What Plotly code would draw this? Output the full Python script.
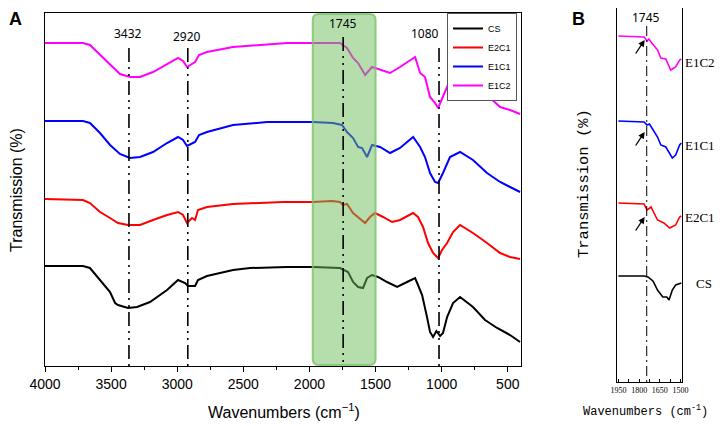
import plotly.graph_objects as go

# ---------------- Panel A data (wavenumber, relative transmission) ----------------
series_names = ["CS", "E2C1", "E1C1", "E1C2"]
series_colors = ["#000000", "#ff0000", "#0000ff", "#ff00ff"]
offsets_A = [0, 67, 145, 223]

cs_wn = [4000, 3713, 3660, 3584, 3508, 3470, 3448, 3372, 3304, 3206, 3077, 2994, 2941, 2918, 2865, 2843,
         2775, 2578, 2449, 2170, 1973, 1769, 1708, 1670, 1632, 1595, 1564, 1527, 1481, 1413, 1337, 1262,
         1201, 1179, 1148, 1111, 1088, 1065, 1040, 1012, 990, 959, 914, 861, 763, 672, 581, 483, 407]
cs_t = [0, 0, -2, -14, -26, -37, -39, -42, -41, -36, -24, -14, -17, -20, -20, -14,
        -10, -4, -2, -1, -1, -2, -6, -16, -21, -22, -12, -9, -11, -16, -21, -16,
        -12, -19, -29, -51, -66, -71, -65, -70, -67, -51, -37, -31, -41, -54, -62, -69, -76]

e2c1_wn = [4000, 3713, 3660, 3584, 3508, 3448, 3372, 3281, 3183, 3077, 2994, 2956, 2926, 2888, 2865, 2843,
           2775, 2578, 2200, 1973, 1829, 1769, 1746, 1716, 1670, 1632, 1579, 1542, 1504, 1443, 1375, 1315,
           1216, 1179, 1141, 1103, 1065, 1027, 997, 959, 914, 861, 763, 657, 558, 483, 407]
e2c1_t = [0, -1, -4, -13, -19, -24, -26, -26, -21, -16, -13, -16, -24, -19, -21, -11,
          -8, -5, -3, -3, -2, -3, -6, -5, -14, -18, -24, -18, -14, -18, -23, -21,
          -14, -18, -28, -44, -54, -59, -51, -44, -33, -26, -34, -44, -54, -58, -60]

e1c1_wn = [4000, 3713, 3660, 3584, 3508, 3433, 3357, 3281, 3183, 3077, 2994, 2956, 2926, 2865, 2835,
           2775, 2578, 2321, 1973, 1822, 1754, 1716, 1670, 1632, 1602, 1564, 1527, 1466, 1390, 1315,
           1216, 1163, 1126, 1088, 1050, 1027, 990, 937, 861, 763, 657, 558, 483, 407]
e1c1_t = [0, 0, -2, -12, -24, -33, -37, -36, -31, -22, -16, -19, -25, -21, -14,
          -11, -4, -1, -1, -2, -4, -11, -17, -26, -27, -36, -24, -26, -32, -27,
          -16, -26, -36, -52, -61, -62, -52, -36, -31, -39, -52, -61, -66, -71]

e1c2_wn = [4000, 3713, 3660, 3584, 3508, 3433, 3357, 3281, 3183, 3077, 2994, 2956, 2926, 2865, 2835,
           2775, 2578, 2170, 1973, 1769, 1716, 1670, 1632, 1579, 1527, 1466, 1390, 1315, 1201, 1163,
           1126, 1088, 1050, 1027, 990, 937, 861, 763, 657, 558, 483, 407]
e1c2_t = [0, 0, -2, -12, -22, -31, -34, -34, -29, -21, -15, -18, -24, -19, -12,
          -9, -4, 0, 0, 0, -5, -15, -20, -32, -24, -27, -30, -24, -14, -30,
          -34, -54, -60, -65, -54, -37, -31, -40, -52, -64, -67, -71]

# ---------------- Panel B data (zoom 1950-1500) ----------------
offsets_B = [0, 73, 155, 240]
b_cs_wn = [1950, 1764, 1736, 1700, 1667, 1629, 1600, 1584, 1560, 1536, 1495]
b_cs_t = [0, 0, -1, -5, -14, -21, -21, -24, -14, -9, -7]
b_e2c1_wn = [1950, 1764, 1743, 1714, 1667, 1621, 1579, 1536, 1507, 1495]
b_e2c1_t = [0, -1, -7, -4, -17, -20, -25, -22, -14, -13]
b_e1c1_wn = [1950, 1764, 1743, 1725, 1667, 1643, 1607, 1560, 1536, 1507, 1495]
b_e1c1_t = [0, -1, -4, -3, -16, -24, -26, -37, -34, -24, -22]
b_e1c2_wn = [1950, 1764, 1743, 1730, 1714, 1667, 1643, 1607, 1572, 1536, 1507, 1495]
b_e1c2_t = [0, -1, -5, -3, -6, -14, -22, -23, -34, -31, -24, -23]

peak_labels = ["3432", "2920", "1745", "1080"]
peak_lines = [3365, 2920, 1745, 1020]

A_wn = [cs_wn, e2c1_wn, e1c1_wn, e1c2_wn]
A_t = [cs_t, e2c1_t, e1c1_t, e1c2_t]
B_wn = [b_cs_wn, b_e2c1_wn, b_e1c1_wn, b_e1c2_wn]
B_t = [b_cs_t, b_e2c1_t, b_e1c1_t, b_e1c2_t]

W, H = 726, 426
OFF = 8  # page body margin offset
def px(x): return (x - OFF) / W
def py(y): return 1 - (y - OFF) / H

fig = go.Figure()
for name, col, off, wn, t in zip(series_names, series_colors, offsets_A, A_wn, A_t):
    fig.add_trace(go.Scatter(x=wn, y=[v + off for v in t], mode="lines", name=name,
                             line=dict(color=col, width=2), xaxis="x", yaxis="y"))
for name, col, off, wn, t in zip(series_names, series_colors, offsets_B, B_wn, B_t):
    fig.add_trace(go.Scatter(x=wn, y=[v + off for v in t], mode="lines", name=name, showlegend=False,
                             line=dict(color=col, width=1.6), xaxis="x2", yaxis="y2"))

shapes = []
x0, x1, y0, y1 = 1975, 1500, -99, 252
rx, ry = 45, 6
path = (f"M {x0 - rx},{y0} L {x1 + rx},{y0} Q {x1},{y0} {x1},{y0 + ry} L {x1},{y1 - ry} "
        f"Q {x1},{y1} {x1 + rx},{y1} L {x0 - rx},{y1} Q {x0},{y1} {x0},{y1 - ry} "
        f"L {x0},{y0 + ry} Q {x0},{y0} {x0 - rx},{y0} Z")
shapes.append(dict(type="path", path=path, xref="x", yref="y", layer="above",
                   fillcolor="rgba(110,190,90,0.5)", line=dict(color="rgba(120,195,100,0.8)", width=2)))
dash = "14px,5px,2px,5px,2px,5px"
tops = [218, 218, 229, 218]
for xv, top in zip(peak_lines, tops):
    shapes.append(dict(type="line", xref="x", yref="y", x0=xv, x1=xv, y0=top, y1=-100,
                       line=dict(color="black", width=1.6, dash=dash)))
shapes.append(dict(type="line", xref="x2", yref="y2", x0=1745, x1=1745, y0=250, y1=-106,
                   line=dict(color="black", width=1, dash="10px,4px,2px,4px")))

ann = []
lab_x = [3372, 2926, 1746, 1126]
lab_y = [232, 229, 242, 232]
for t, xv, yv in zip(peak_labels, lab_x, lab_y):
    ann.append(dict(text=t, x=xv, y=yv, xref="x", yref="y", showarrow=False,
                    font=dict(family="Noto Sans", size=12, color="black")))

def pann(text, x, y, size, family, angle=0, yanchor="middle"):
    yy = 1 if yanchor == "top" else py(y)
    return dict(text=text, x=px(x), y=yy, xref="paper", yref="paper", xanchor="center", yanchor=yanchor,
                showarrow=False, textangle=angle, borderpad=0,
                font=dict(family=family, size=size, color="black"))

ann.append(pann("1745", 646, 0, 12, "Noto Sans", yanchor="top"))
ann.append(pann("<b>A</b>", 15, 0, 18, "Liberation Sans", yanchor="top"))
ann.append(pann("<b>B</b>", 578, 0, 18, "Liberation Sans", yanchor="top"))
ann.append(pann("Transmission (%)", 17, 190, 16, "Liberation Sans", angle=-90))
ann.append(pann("Wavenumbers (cm<sup>−1</sup>)", 284, 411, 16, "Liberation Sans"))
ann.append(pann("Transmission (%)", 584, 184, 15.5, "Liberation Mono", angle=-90))
ann.append(pann("Wavenumbers (cm<sup>-1</sup>)", 645, 411, 12, "Liberation Mono"))
b_labels = ["CS", "E2C1", "E1C1", "E1C2"]
b_label_x = [704, 700, 700, 700]
b_label_y = [283, 217, 145, 62]
for t, xv, yv in zip(b_labels, b_label_x, b_label_y):
    ann.append(pann(t, xv, yv, 13, "Liberation Serif"))
arrow_tips = [(1760, 59), (1760, 144), (1760, 236)]
for tx, ty in arrow_tips:
    ann.append(dict(x=tx, y=ty, xref="x2", yref="y2", ax=-10, ay=15, showarrow=True,
                    arrowhead=2, arrowsize=1, arrowwidth=1.3, arrowcolor="black", text=""))

fig.update_layout(
    width=W, height=H, margin=dict(l=0, r=0, t=0, b=0, pad=0, autoexpand=False),
    paper_bgcolor="white", plot_bgcolor="white", showlegend=True,
    xaxis=dict(domain=[px(45), px(521)], range=[4000, 400], anchor="y", showline=True, mirror=True,
               automargin=False,
               linecolor="black", linewidth=1, ticks="outside", ticklen=5, tickcolor="black",
               tick0=0, dtick=500, showgrid=False, zeroline=False,
               minor=dict(dtick=250, ticks="outside", ticklen=3, tickcolor="black"),
               tickfont=dict(family="Liberation Sans", size=14, color="black")),
    yaxis=dict(domain=[py(366), py(13)], range=[-100, 253], anchor="x", showline=True, mirror=True,
               automargin=False,
               linecolor="black", linewidth=1, showticklabels=False, ticks="", showgrid=False, zeroline=False),
    xaxis2=dict(domain=[px(617), px(682)], range=[1960, 1490], anchor="y2", showline=True, mirror=True,
                automargin=False, tickangle=0,
                linecolor="black", linewidth=1, ticks="inside", ticklen=3, tickcolor="black",
                tickvals=[1950, 1800, 1650, 1500], showgrid=False, zeroline=False,
                minor=dict(tickvals=[1875, 1725, 1575], ticks="inside", ticklen=3, tickcolor="black"),
                tickfont=dict(family="Liberation Serif", size=8, color="black")),
    yaxis2=dict(domain=[py(382), 1.0], range=[-106, 268], anchor="x2", showline=True, mirror=True,
                automargin=False,
                linecolor="black", linewidth=1, showticklabels=False, ticks="", showgrid=False, zeroline=False),
    legend=dict(x=px(447), y=py(13), xanchor="left", yanchor="top", bgcolor="white",
                bordercolor="#555", borderwidth=1, font=dict(family="Liberation Sans", size=9, color="black"),
                itemwidth=30, tracegroupgap=0),
    shapes=shapes, annotations=ann,
)
fig.write_html("out.html")
